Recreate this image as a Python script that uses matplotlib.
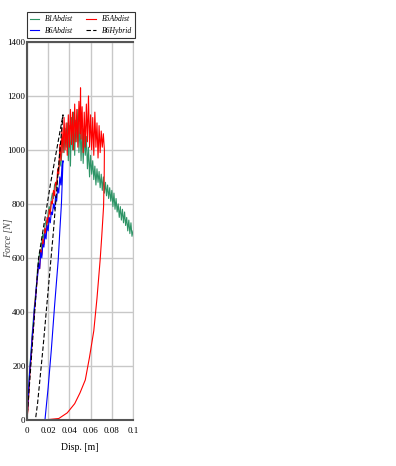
import matplotlib as mpl
mpl.use("Agg")
import matplotlib.pyplot as plt

# displacement [m] / force [N]
b1_x = [0, 0.001, 0.002, 0.003, 0.004, 0.005, 0.006, 0.007, 0.008, 0.009, 0.010, 0.011, 0.012, 0.013,
        0.014, 0.015, 0.016, 0.017, 0.018, 0.019, 0.020, 0.021, 0.022, 0.023, 0.024, 0.025, 0.026, 0.027,
        0.028, 0.029, 0.030, 0.031, 0.032, 0.033, 0.034, 0.035, 0.036, 0.037, 0.038, 0.039, 0.040, 0.041,
        0.042, 0.043, 0.044, 0.045, 0.046, 0.047, 0.048, 0.049, 0.050, 0.051, 0.052, 0.053, 0.054, 0.055,
        0.056, 0.057, 0.058, 0.059, 0.060, 0.061, 0.062, 0.063, 0.064, 0.065, 0.066, 0.067, 0.068, 0.069,
        0.070, 0.071, 0.072, 0.073, 0.074, 0.075, 0.076, 0.077, 0.078, 0.079, 0.080, 0.081, 0.082, 0.083,
        0.084, 0.085, 0.086, 0.087, 0.088, 0.089, 0.090, 0.091, 0.092, 0.093, 0.094, 0.095, 0.096, 0.097,
        0.098, 0.099, 0.100]
b1_f = [0, 60, 150, 210, 260, 320, 370, 420, 460, 500, 560, 590, 620, 600,
        660, 690, 670, 720, 740, 720, 770, 790, 770, 820, 840, 820, 870, 880,
        860, 910, 930, 960, 940, 1000, 1040, 990, 1080, 1010, 1100, 960, 1090, 940,
        1120, 1000, 1140, 980, 1110, 1030, 1150, 990, 1100, 960, 1080, 950, 1060, 980,
        1050, 930, 1010, 900, 980, 910, 960, 890, 940, 870, 930, 880, 920, 860,
        910, 850, 900, 840, 880, 830, 870, 820, 860, 810, 850, 790, 840, 780,
        820, 770, 800, 750, 790, 740, 780, 730, 770, 720, 750, 700, 740, 690,
        730, 680, 700]

b5_x = [0, 0.001, 0.002, 0.003, 0.004, 0.005, 0.006, 0.007, 0.008, 0.009, 0.010, 0.011, 0.012, 0.013,
        0.014, 0.015, 0.016, 0.017, 0.018, 0.019, 0.020, 0.021, 0.022, 0.023, 0.024, 0.025, 0.026, 0.027,
        0.028, 0.029, 0.030, 0.031, 0.032, 0.033, 0.034, 0.035, 0.036, 0.037, 0.038, 0.039, 0.040, 0.041,
        0.042, 0.043, 0.044, 0.045, 0.046, 0.047, 0.048, 0.049, 0.050, 0.0505, 0.051, 0.052, 0.053, 0.054,
        0.055, 0.056, 0.057, 0.058, 0.059, 0.060, 0.061, 0.062, 0.063, 0.064, 0.065, 0.066, 0.067, 0.068,
        0.069, 0.070, 0.071, 0.072, 0.073,
        0.0728, 0.0722, 0.0705, 0.069, 0.066, 0.063, 0.059, 0.055, 0.050, 0.045, 0.038, 0.030, 0.017, 0]
b5_f = [0, 40, 110, 190, 230, 300, 340, 400, 450, 490, 540, 580, 560, 630,
        610, 670, 650, 710, 690, 750, 730, 780, 760, 810, 800, 850, 830, 880,
        870, 930, 910, 1020, 960, 1080, 990, 1120, 1000, 1100, 980, 1130, 1010, 1150,
        1020, 1140, 1000, 1170, 1030, 1150, 1010, 1180, 1060, 1230, 1040, 1160, 990, 1140,
        1010, 1170, 1030, 1200, 1010, 1130, 1000, 1120, 980, 1140, 1010, 1100, 970, 1090,
        990, 1070, 1010, 1060, 1000,
        900, 789, 680, 593, 450, 330, 233, 148, 100, 60, 26, 5, 0, 0]

b6_x = [0, 0.001, 0.002, 0.003, 0.004, 0.005, 0.006, 0.007, 0.008, 0.009, 0.010, 0.011, 0.012, 0.013,
        0.014, 0.015, 0.016, 0.017, 0.018, 0.019, 0.020, 0.021, 0.022, 0.023, 0.024, 0.025, 0.026, 0.027,
        0.028, 0.029, 0.030, 0.031, 0.032, 0.033, 0.034,
        0.0325, 0.031, 0.0295, 0.026, 0.023, 0.020, 0.017, 0]
b6_f = [0, 70, 140, 200, 250, 310, 350, 410, 440, 500, 530, 580, 560, 620,
        600, 650, 640, 690, 670, 720, 700, 750, 730, 770, 760, 800, 780, 830,
        810, 860, 840, 900, 870, 940, 960,
        800, 700, 593, 420, 260, 120, 0, 0]

hyb_x = [0, 0.011, 0.022, 0.034, 0.030, 0.025, 0.020, 0.015, 0.010, 0.008, 0]
hyb_f = [0, 600, 870, 1130, 950, 700, 480, 260, 60, 0, 0]

x_ticks = [0, 0.02, 0.04, 0.06, 0.08, 0.1]
x_ticklabels = ["0", "0.02", "0.04", "0.06", "0.08", "0.1"]
y_ticks = [0, 200, 400, 600, 800, 1000, 1200, 1400]

plt.rcParams['font.family'] = ['Liberation Serif', 'DejaVu Serif']

fig = plt.figure(figsize=(3.96, 4.66), dpi=100)
ax = fig.add_axes([0.068, 0.099, 0.268, 0.811])

l1, = ax.plot(b1_x, b1_f, color="#2e9466", lw=0.8, label="B1Abdist")
l5, = ax.plot(b5_x, b5_f, color="#ff0000", lw=0.8, label="B5Abdist")
l6, = ax.plot(b6_x, b6_f, color="#0000ff", lw=0.8, label="B6Abdist")
lh, = ax.plot(hyb_x, hyb_f, color="black", lw=0.8, ls=(0, (4, 2)), label="B6Hybrid")

ax.set_xlim(0, 0.1)
ax.set_ylim(0, 1400)
ax.set_xticks(x_ticks)
ax.set_xticklabels(x_ticklabels)
ax.set_yticks(y_ticks)
ax.tick_params(length=0, labelsize=6.5)
ax.tick_params(axis="y", pad=1)
ax.tick_params(axis="x", pad=5)
ax.grid(True, color="#c8c8c8", lw=1)
ax.set_axisbelow(True)
for s in ["left", "bottom", "top"]:
    ax.spines[s].set_color("#555555")
    ax.spines[s].set_linewidth(1.5)
ax.spines["right"].set_color("#c8c8c8")

ax.set_xlabel("Disp. [m]", fontsize=7, labelpad=6)
ax.set_ylabel("Force [N]", fontsize=7, style="italic", color="#444444")
ax.yaxis.set_label_coords(-0.13, 0.48)

handles = [l1, l6, l5, lh]
leg = ax.legend(handles, [h.get_label() for h in handles], ncol=2, loc="lower left",
                bbox_to_anchor=(0.068, 0.918, 0.273, 0.077),
                bbox_transform=fig.transFigure, mode="expand",
                prop={'style': 'italic', 'size': 5.5}, frameon=True, fancybox=False,
                handlelength=1.2, borderaxespad=0, columnspacing=1.0)
leg.get_frame().set_edgecolor("black")
leg.get_frame().set_linewidth(0.8)

fig.savefig("out.png", dpi=100)
